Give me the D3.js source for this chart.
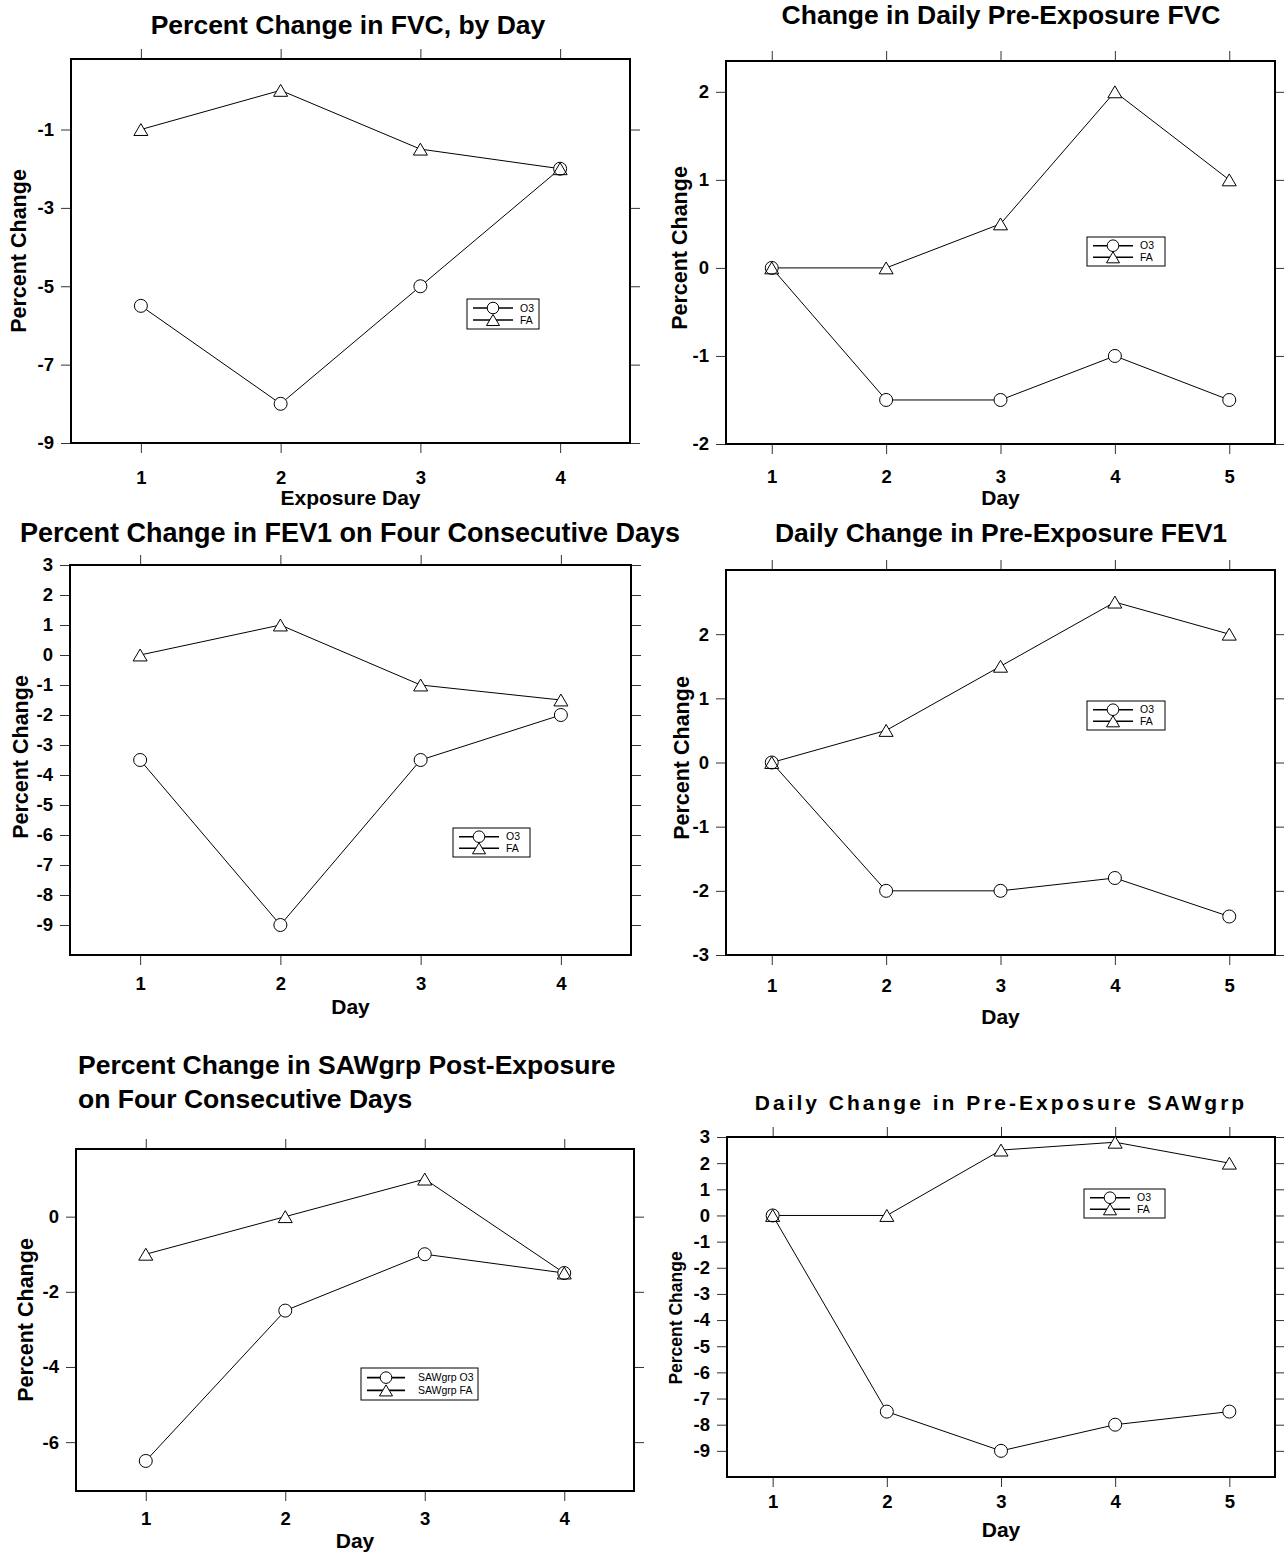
<!DOCTYPE html>
<html>
<head>
<meta charset="utf-8">
<script src="https://cdn.jsdelivr.net/npm/d3@7"></script>
<style>
  body { margin: 0; background: #fff; }
  svg { font-family: "Liberation Sans", Arial, sans-serif; }
</style>
</head>
<body>
<div id="chart-container"></div>
<script>
// Days on the x axis
const days4 = [1, 2, 3, 4];
const days5 = [1, 2, 3, 4, 5];

// Percent change in FVC, by exposure day
const fvcO3 = [-5.5, -8, -5, -2];
const fvcFA = [-1, 0, -1.5, -2];
const fvcTicks = [-9, -7, -5, -3, -1];

// Change in daily pre-exposure FVC
const preFvcO3 = [0, -1.5, -1.5, -1, -1.5];
const preFvcFA = [0, 0, 0.5, 2, 1];
const preFvcTicks = [-2, -1, 0, 1, 2];

// Percent change in FEV1
const fev1O3 = [-3.5, -9, -3.5, -2];
const fev1FA = [0, 1, -1, -1.5];
const fev1Ticks = [3, 2, 1, 0, -1, -2, -3, -4, -5, -6, -7, -8, -9];

// Daily change in pre-exposure FEV1
const preFev1O3 = [0, -2, -2, -1.8, -2.4];
const preFev1FA = [0, 0.5, 1.5, 2.5, 2];
const preFev1Ticks = [-3, -2, -1, 0, 1, 2];

// Percent change in SAWgrp post-exposure
const sawO3 = [-6.5, -2.5, -1, -1.5];
const sawFA = [-1, 0, 1, -1.5];
const sawTicks = [-6, -4, -2, 0];

// Daily change in pre-exposure SAWgrp
const preSawO3 = [0, -7.5, -9, -8, -7.5];
const preSawFA = [0, 0, 2.5, 2.8, 2];
const preSawTicks = [3, 2, 1, 0, -1, -2, -3, -4, -5, -6, -7, -8, -9];

const legendNames = ["O3", "FA"];
const sawLegendNames = ["SAWgrp O3", "SAWgrp FA"];

const W = 1284, H = 1552;

// panel layout (box in page pixels)
const panels = [
  { title: ["Percent Change in FVC, by Day"], titleX: 348, titleY: 34,
    box: { l: 71, r: 630, t: 59, b: 443 }, xDom: [0.5, 4.5], yDom: [-9, 0.8],
    days: days4, o3: fvcO3, fa: fvcFA, yTicks: fvcTicks,
    xTitle: "Exposure Day", xLabY: 484, xTitleY: 505, yTitleX: 26, yTitleY: 251,
    legend: { x: 467, y: 299, w: 72, h: 30, names: legendNames } },
  { title: ["Change in Daily Pre-Exposure FVC"], titleX: 1001, titleY: 24,
    box: { l: 726, r: 1275, t: 61, b: 444 }, xDom: [0.6, 5.4], yDom: [-2, 2.35],
    days: days5, o3: preFvcO3, fa: preFvcFA, yTicks: preFvcTicks,
    xTitle: "Day", xLabY: 483, xTitleY: 505, yTitleX: 687, yTitleY: 248,
    legend: { x: 1087, y: 237, w: 78, h: 29, names: legendNames } },
  { title: ["Percent Change in FEV1 on Four Consecutive Days"], titleX: 350, titleY: 542,
    titleSize: 27,
    box: { l: 70, r: 631, t: 565, b: 955 }, xDom: [0.5, 4.5], yDom: [-10, 3],
    days: days4, o3: fev1O3, fa: fev1FA, yTicks: fev1Ticks,
    xTitle: "Day", xLabY: 990, xTitleY: 1014, yTitleX: 28, yTitleY: 757,
    legend: { x: 453, y: 828, w: 77, h: 29, names: legendNames } },
  { title: ["Daily Change in Pre-Exposure FEV1"], titleX: 1001, titleY: 542,
    box: { l: 726, r: 1275, t: 570, b: 955 }, xDom: [0.6, 5.4], yDom: [-3, 3],
    days: days5, o3: preFev1O3, fa: preFev1FA, yTicks: preFev1Ticks,
    xTitle: "Day", xLabY: 992, xTitleY: 1024, yTitleX: 689, yTitleY: 758,
    legend: { x: 1087, y: 701, w: 78, h: 29, names: legendNames } },
  { title: ["Percent Change in SAWgrp Post-Exposure", "on Four Consecutive Days"],
    titleX: 78, titleY: 1074, titleAnchor: "start", titleGap: 34,
    box: { l: 76, r: 634, t: 1149, b: 1491 }, xDom: [0.5, 4.5], yDom: [-7.3, 1.8],
    days: days4, o3: sawO3, fa: sawFA, yTicks: sawTicks,
    xTitle: "Day", xLabY: 1525, xTitleY: 1548, yTitleX: 33, yTitleY: 1320,
    legend: { x: 361, y: 1368, w: 117, h: 32, names: sawLegendNames, lineEnd: 44, textX: 57 } },
  { title: ["Daily Change in Pre-Exposure SAWgrp"], titleX: 1001, titleY: 1110,
    titleSize: 21, titleSpacing: 3.0,
    box: { l: 727, r: 1275, t: 1137, b: 1477 }, xDom: [0.6, 5.4], yDom: [-10, 3],
    days: days5, o3: preSawO3, fa: preSawFA, yTicks: preSawTicks,
    xTitle: "Day", xLabY: 1508, xTitleY: 1537, yTitleX: 682, yTitleY: 1318, yTitleSize: 17.5,
    legend: { x: 1084, y: 1189, w: 81, h: 29, names: legendNames } }
];

const svg = d3.select("#chart-container")
  .append("svg")
  .attr("width", W)
  .attr("height", H);

// plain hyphen minus, no decimals
const fmt = d => String(d);

// marker shapes
const triPath = s => `M0,${-s * 0.85}L${s},${s * 0.85}L${-s},${s * 0.85}Z`;

function drawMarkers(g, pts, kind, r) {
  const sel = g.selectAll(null).data(pts).enter();
  if (kind === "circle") {
    return sel.append("circle")
      .attr("cx", d => d[0]).attr("cy", d => d[1]).attr("r", r);
  }
  return sel.append("path")
    .attr("transform", d => `translate(${d[0]},${d[1]})`)
    .attr("d", triPath(r));
}

panels.forEach(p => {
  const b = p.box;
  const x = d3.scaleLinear().domain(p.xDom).range([b.l, b.r]);
  const y = d3.scaleLinear().domain(p.yDom).range([b.b, b.t]);

  const g = svg.append("g");

  // Title
  p.title.forEach((t, i) => {
    g.append("text")
      .attr("x", p.titleX)
      .attr("y", p.titleY + i * (p.titleGap || 0))
      .attr("text-anchor", p.titleAnchor || "middle")
      .style("font-size", (p.titleSize || 26.5) + "px")
      .style("font-weight", "bold")
      .style("letter-spacing", (p.titleSpacing || 0) + "px")
      .text(t);
  });

  // Axes, ticks pointing outward
  const left = g.append("g")
    .attr("transform", `translate(${b.l},0)`)
    .call(d3.axisLeft(y).tickValues(p.yTicks).tickSize(10).tickPadding(7).tickFormat(fmt));
  const right = g.append("g")
    .attr("transform", `translate(${b.r},0)`)
    .call(d3.axisRight(y).tickValues(p.yTicks).tickSize(10).tickFormat(""));
  const top = g.append("g")
    .attr("transform", `translate(0,${b.t})`)
    .call(d3.axisTop(x).tickValues(p.days).tickSize(10).tickFormat(""));
  const bottom = g.append("g")
    .attr("transform", `translate(0,${b.b})`)
    .call(d3.axisBottom(x).tickValues(p.days).tickSize(10).tickFormat(fmt));

  [left, right, top, bottom].forEach(a => {
    a.select(".domain").remove();
    a.selectAll(".tick line").attr("stroke", "#333").attr("stroke-width", 1);
    a.selectAll("text")
      .attr("fill", "#000")
      .style("font-family", "Liberation Sans, Arial, sans-serif")
      .style("font-size", "18.5px")
      .style("font-weight", "bold");
  });
  bottom.selectAll("text").attr("y", p.xLabY - b.b).attr("dy", 0);

  // Frame
  g.append("rect")
    .attr("x", b.l).attr("y", b.t)
    .attr("width", b.r - b.l).attr("height", b.b - b.t)
    .attr("fill", "none")
    .attr("stroke", "#000")
    .attr("stroke-width", 2);

  // Axis titles
  g.append("text")
    .attr("x", (b.l + b.r) / 2)
    .attr("y", p.xTitleY)
    .attr("text-anchor", "middle")
    .style("font-size", "21px")
    .style("font-weight", "bold")
    .text(p.xTitle);

  g.append("text")
    .attr("transform", `translate(${p.yTitleX},${p.yTitleY}) rotate(-90)`)
    .attr("text-anchor", "middle")
    .style("font-size", (p.yTitleSize || 21.5) + "px")
    .style("font-weight", "bold")
    .text("Percent Change");

  // Series lines
  const line = d3.line().x(d => x(d[0])).y(d => y(d[1]));
  const o3Pts = p.days.map((d, i) => [d, p.o3[i]]);
  const faPts = p.days.map((d, i) => [d, p.fa[i]]);

  [o3Pts, faPts].forEach(pts => {
    g.append("path")
      .datum(pts)
      .attr("fill", "none")
      .attr("stroke", "#000")
      .attr("stroke-width", 1)
      .attr("d", line);
  });

  // Markers: white fills first, then outlines so overlapping symbols both show
  const o3Px = o3Pts.map(d => [x(d[0]), y(d[1])]);
  const faPx = faPts.map(d => [x(d[0]), y(d[1])]);
  drawMarkers(g, o3Px, "circle", 6.5).attr("fill", "#fff").attr("stroke", "none");
  drawMarkers(g, faPx, "tri", 7).attr("fill", "#fff").attr("stroke", "none");
  drawMarkers(g, o3Px, "circle", 6.5).attr("fill", "none").attr("stroke", "#000").attr("stroke-width", 1);
  drawMarkers(g, faPx, "tri", 7).attr("fill", "none").attr("stroke", "#000").attr("stroke-width", 1);

  // Legend
  const L = p.legend;
  const lg = g.append("g").attr("transform", `translate(${L.x},${L.y})`);
  lg.append("rect")
    .attr("width", L.w).attr("height", L.h)
    .attr("fill", "#fff")
    .attr("stroke", "#000")
    .attr("stroke-width", 1);
  const rowY = [L.h * 0.3, L.h * 0.7];
  const lineEnd = L.lineEnd || 46;
  L.names.forEach((name, i) => {
    lg.append("line")
      .attr("x1", 6).attr("x2", lineEnd)
      .attr("y1", rowY[i]).attr("y2", rowY[i])
      .attr("stroke", "#000")
      .attr("stroke-width", 1.6);
    drawMarkers(lg, [[(6 + lineEnd) / 2, rowY[i]]], i === 0 ? "circle" : "tri", i === 0 ? 5.8 : 6.5)
      .attr("fill", "#fff").attr("stroke", "#000").attr("stroke-width", 1);
    lg.append("text")
      .attr("x", L.textX || 53)
      .attr("y", rowY[i])
      .attr("dy", "0.35em")
      .style("font-size", "10.5px")
      .text(name);
  });
});
</script>
</body>
</html>
